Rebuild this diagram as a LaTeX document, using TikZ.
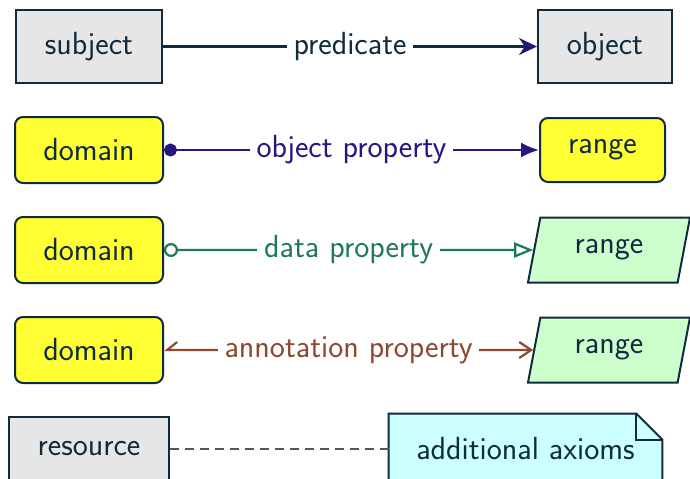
\documentclass[tikz,border=0pt]{standalone}
\usetikzlibrary{arrows.meta,shapes.geometric,backgrounds}
\definecolor{owl@line}{RGB}{16,42,62}
\definecolor{owl@gray}{RGB}{230,230,230}
\definecolor{owl@yellow}{RGB}{255,255,51}
\definecolor{owl@green}{RGB}{204,255,204}
\definecolor{owl@cyan}{RGB}{204,255,255}
\definecolor{owl@indigo}{RGB}{40,22,128}
\definecolor{owl@teal}{RGB}{30,120,90}
\definecolor{owl@brown}{RGB}{140,72,48}
\definecolor{owl@dash}{RGB}{85,85,85}

\begin{document}
\begin{tikzpicture}[
  x=0.5pt, y=-0.5pt,
  every node/.style={font=\sffamily\fontsize{16}{19}\selectfont, text=owl@line},
  resbox/.style={draw=owl@line, line width=1pt, fill=owl@gray, minimum height=36.5pt},
  clsbox/.style={draw=owl@line, line width=1pt, fill=owl@yellow, rounded corners=4pt, minimum height=33pt},
  litbox/.style={trapezium, trapezium left angle=70, trapezium right angle=110,
    trapezium stretches body, draw=owl@line, line width=1pt, fill=owl@green,
    minimum height=32.5pt, minimum width=81pt},
  prop/.style={line width=1.1pt},
  lbl/.style={midway, fill=white},
]
\clip (0,0) rectangle (690,478);

% subject - predicate - object
\node[resbox, minimum width=73pt] (subj) at (89,46.5) {subject\hspace{4pt}};
\node[resbox, minimum width=67pt] (obj) at (605,46.5) {object\hspace{4pt}};
\draw[prop, owl@line, -{Stealth[length=9pt, width=8.5pt, color=owl@indigo]}]
  (subj) -- node[lbl] {predicate} (obj);

% object property
\node[clsbox, minimum width=74pt] (dom1) at (89,150) {domain};
\node[clsbox, minimum width=62.5pt, minimum height=32pt] (rng1) at (602.5,150) {range};
\draw[prop, owl@indigo, {Circle[length=6.5pt]}-{Latex[length=9pt, width=7.5pt]}]
  (dom1) -- node[lbl, text=owl@indigo] {object property} (rng1);

% data property
\node[clsbox, minimum width=74pt] (dom2) at (89,250) {domain};
\node[litbox] (rng2) at (609,250) {range};
\draw[prop, owl@teal, {Circle[open, length=7pt]}-{Triangle[open, length=9.5pt, width=7.5pt]}]
  (dom2) -- node[lbl, text=owl@teal] {data property} (rng2);

% annotation property
\node[clsbox, minimum width=74pt] (dom3) at (89,350) {domain};
\node[litbox] (rng3) at (609,350) {range};
\draw[prop, owl@brown, {Straight Barb[harpoon, swap, length=5pt, width=8pt]}-{Straight Barb[length=6pt, width=8pt]}]
  (dom3) -- node[lbl, text=owl@brown] {annotation property} (rng3);

% resource and note
\node[resbox, minimum width=80pt, minimum height=32pt] (res) at (89,449) {resource\hspace{4pt}};
\node[minimum width=136.5pt, minimum height=35pt] (axioms) at (525.5,449) {additional axioms};
\begin{pgfonlayer}{background}
  \filldraw[fill=owl@cyan, draw=owl@line, line width=1pt]
    (axioms.south west) -- (axioms.north west) -- ([xshift=-13pt]axioms.north east)
    -- ([yshift=-13pt]axioms.north east) -- (axioms.south east) -- cycle;
  \draw[owl@line, line width=1pt]
    ([xshift=-13pt]axioms.north east) |- ([yshift=-13pt]axioms.north east);
\end{pgfonlayer}
\draw[owl@dash, line width=1pt, dash pattern=on 4.5pt off 3pt] (res) -- (axioms);

\end{tikzpicture}
\end{document}
